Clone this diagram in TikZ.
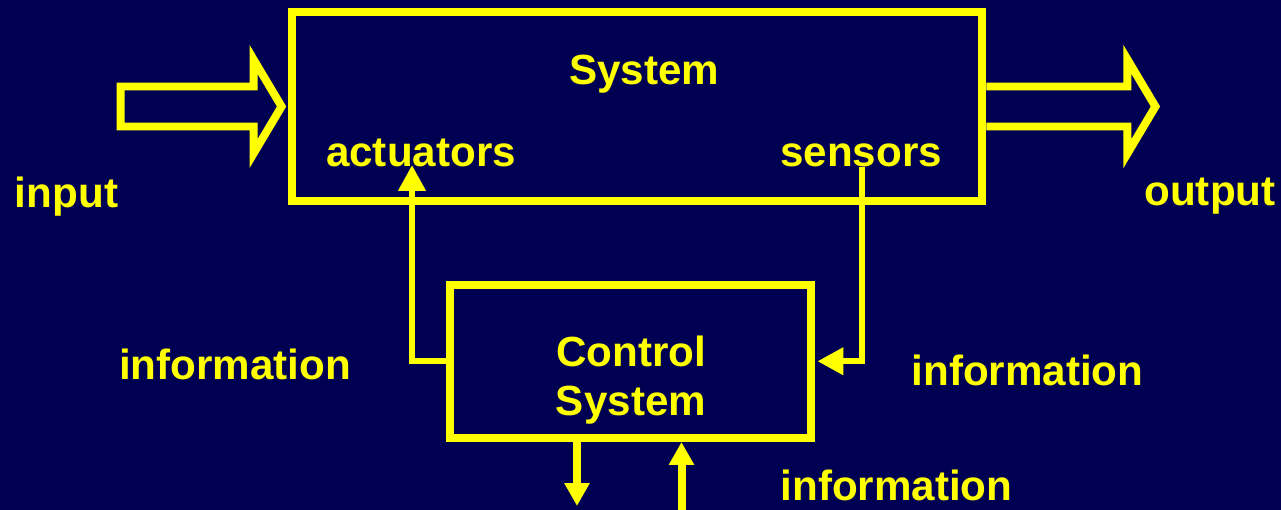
\documentclass[tikz,border=0pt]{standalone}
\usepackage{fontspec}
\setmainfont{Liberation Sans}
\usepackage{xcolor}
\usepackage{tikz}
\usetikzlibrary{arrows.meta,positioning,calc}

\definecolor{slidebg}{RGB}{0,0,82}
\definecolor{slideyel}{RGB}{255,255,0}

\begin{document}
\begin{tikzpicture}[
  x=0.02cm, y=-0.02cm,
  blk/.style={rectangle, draw=slideyel, line width=0.16cm, inner sep=0pt},
  lbl/.style={text=slideyel, font=\fontsize{24}{29}\selectfont\bfseries, anchor=base, inner sep=0pt},
  hollow/.style={draw=slideyel, line width=0.16cm, miter limit=10},
  feed/.style={draw=slideyel, line width=0.12cm, -{Triangle[length=0.52cm, width=0.53cm]}},
  feedb/.style={draw=slideyel, line width=0.16cm, -{Triangle[length=0.46cm, width=0.48cm]}}
]

% Background
\fill[slidebg] (0,0) rectangle (1281,510);
\useasboundingbox (0,0) rectangle (1281,510);

% System
\node[blk, minimum width=13.82cm, minimum height=3.78cm] (sys) at (637,106.5) {};
\node[lbl] (systxt) at (644,85) {System};
\node[lbl] (acttxt) at (421,166) {actuators};
\node[lbl] (snstxt) at (861,166) {sensors};

% Control System
\node[blk, minimum width=7.23cm, minimum height=3.07cm] (ctrl) at (630.75,361.25) {};
\node[lbl] (ctrltxt) at (631,366) {Control};
\node[lbl] (ctrltxtb) at (631,415) {System};

% Outside labels
\node[lbl] (intxt) at (66.5,207) {input};
\node[lbl] (outtxt) at (1210,205) {output};
\node[lbl] (infol) at (235,379) {information};
\node[lbl] (infor) at (1027.5,385) {information};
\node[lbl, text depth=0pt] (infob) at (896.5,500) {information};

% input / output arrows
\draw[hollow] ($(sys.west)+(-6,0)$) -- ++(-28,-47) -- ++(0,27) -- ++(-133,0)
  -- ++(0,40) -- ++(133,0) -- ++(0,27) -- cycle;
\draw[hollow] ($(sys.east)+(0,-20)$) -- ++(141,0) -- ++(0,-27) -- ++(28,47)
  -- ++(-28,47) -- ++(0,-27) -- ++(-141,0);

% Feedback loop
\coordinate (act) at (412,165);
\coordinate (sns) at (862,167);
\draw[feed] (ctrl.west) -| (act);
\draw[feed, shorten >=0.04cm] (sns) |- (ctrl.east);

% Bottom information
\coordinate (dn) at (577,506);
\coordinate (up) at (681.5,514);
\draw[feedb] (dn |- ctrl.south) -- (dn);
\draw[feedb] (up) -- (up |- ctrl.south);

\end{tikzpicture}
\end{document}
